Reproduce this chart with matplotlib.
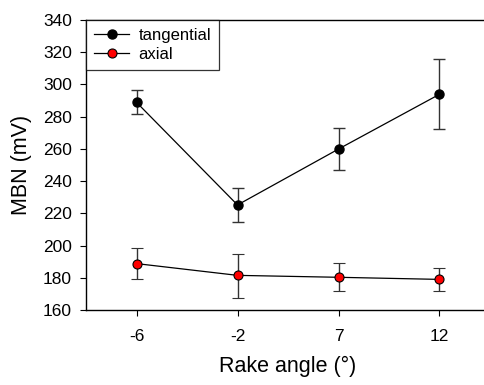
import matplotlib
matplotlib.use("Agg")
import matplotlib.pyplot as plt

plt.rcParams['font.family'] = ['Liberation Sans', 'DejaVu Sans']

angles = ['-6', '-2', '7', '12']
tang = [288.9, 225.2, 259.9, 293.9]
tang_lo = [281.7, 214.8, 246.9, 272.3]
tang_hi = [296.8, 235.7, 273.2, 315.6]
axial = [188.8, 181.5, 180.3, 179.0]
axial_lo = [179.2, 167.6, 171.6, 171.8]
axial_hi = [198.5, 195.0, 189.2, 185.8]

x = list(range(len(angles)))

fig = plt.figure(figsize=(4.85, 3.85), dpi=100)
ax = fig.add_axes([86 / 485, 1 - 310 / 385, 404 / 485, 290 / 385])

def err(v, lo, hi):
    return [[a - b for a, b in zip(v, lo)], [c - a for a, c in zip(v, hi)]]

ax.errorbar(x, tang, yerr=err(tang, tang_lo, tang_hi), color='black', lw=0.9,
            marker='o', ms=6.5, mfc='black', mec='black', ecolor='#333333',
            elinewidth=1, capsize=4, capthick=1, label='tangential')
ax.errorbar(x, axial, yerr=err(axial, axial_lo, axial_hi), color='black', lw=0.9,
            marker='o', ms=6.5, mfc='red', mec='black', mew=0.8, ecolor='#333333',
            elinewidth=1, capsize=4, capthick=1, label='axial')

ax.set_xlim(-0.5, 3.5)
ax.set_ylim(160, 340)
ax.set_yticks(range(160, 341, 20))
ax.set_xticks(x)
ax.set_xticklabels(angles)
ax.tick_params(direction='out', length=4, labelsize=12.5, pad=6)
ax.tick_params(axis='x', pad=10)
for s in ax.spines.values():
    s.set_linewidth(1)
ax.spines['right'].set_visible(False)

ax.set_xlabel('Rake angle (°)', fontsize=15.5, labelpad=8)
ax.set_ylabel('MBN (mV)', fontsize=15.5, labelpad=8)

handles, labels = ax.get_legend_handles_labels()
handles = [h[0] for h in handles]
leg = ax.legend(handles, labels, loc='upper left', borderaxespad=0, fontsize=12,
                frameon=True, fancybox=False, edgecolor='black', handlelength=2.1,
                handletextpad=0.55, borderpad=0.5, labelspacing=0.2)
leg.get_frame().set_linewidth(0.9)

fig.savefig('out.png', dpi=100)
